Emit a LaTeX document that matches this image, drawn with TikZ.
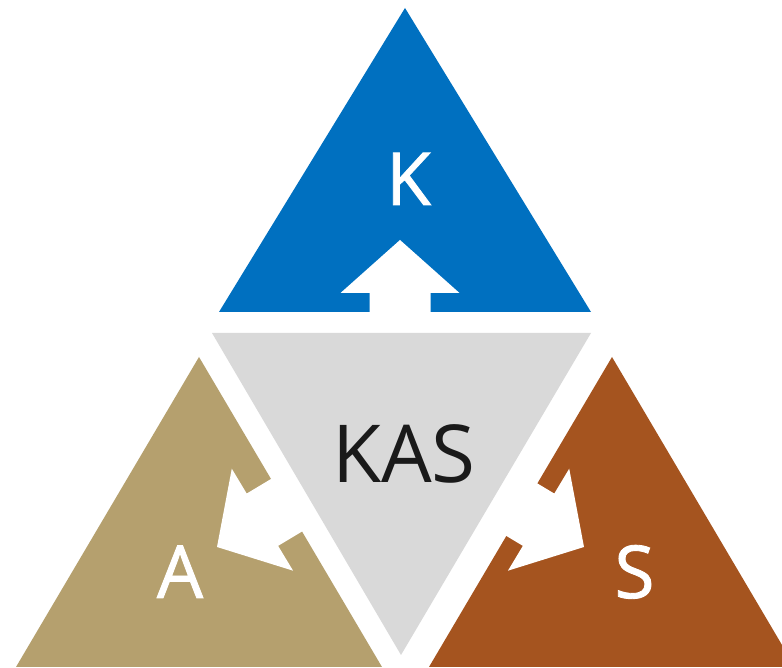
\documentclass[tikz,border=0pt]{standalone}
\usepackage{fontspec}
\setmainfont{Open Sans}
\newfontfamily\kassemi[FakeBold=1.2]{Open Sans}
\usepackage{xcolor}
\usepackage{tikz}
\usetikzlibrary{positioning}
\definecolor{KasBlue}{HTML}{0070C0}
\definecolor{KasTan}{HTML}{B5A06E}
\definecolor{KasRust}{HTML}{A5541F}
\definecolor{KasGray}{HTML}{D9D9D9}
\definecolor{KasInk}{HTML}{1A1A1A}
\newcommand{\kasarrow}[2]{\fill[white,shift={(#1)},rotate=#2] (0,0) -- (59.5,-53) -- (30.5,-53) -- (30.5,-110) -- (-30.5,-110) -- (-30.5,-53) -- (-59.5,-53) -- cycle;}

\begin{document}
\begin{tikzpicture}[x=1pt,y=1pt, lbl/.style={anchor=base,inner sep=0pt,text=white,font=\kassemi\fontsize{73}{80}\selectfont}, big/.style={lbl,text=KasInk,font=\rmfamily\fontsize{80}{88}\selectfont}]
\useasboundingbox (0,0) rectangle (782,668);
\clip (0,0) rectangle (782,668);
\fill[white] (0,0) rectangle (782,668);
\fill[KasBlue] (405,660) -- (591,356) -- (219,356) -- cycle;
\fill[KasTan] (199,311) -- (382,1) -- (16,1) -- cycle;
\fill[KasRust] (612,311) -- (795,1) -- (429,1) -- cycle;
\kasarrow{400,428}{0}
\kasarrow{217,121}{121}
\kasarrow{584,121}{-121}
\fill[KasGray] (212,335) -- (591,335) -- (401,13) -- cycle;
\node[lbl] (k) at (408.5,463) {K};
\node[big] (kas) at (404,185) {KAS};
\node[lbl] (a) at (180,70) {A};
\node[lbl] (s) at (634.5,70) {S};
\end{tikzpicture}
\end{document}
